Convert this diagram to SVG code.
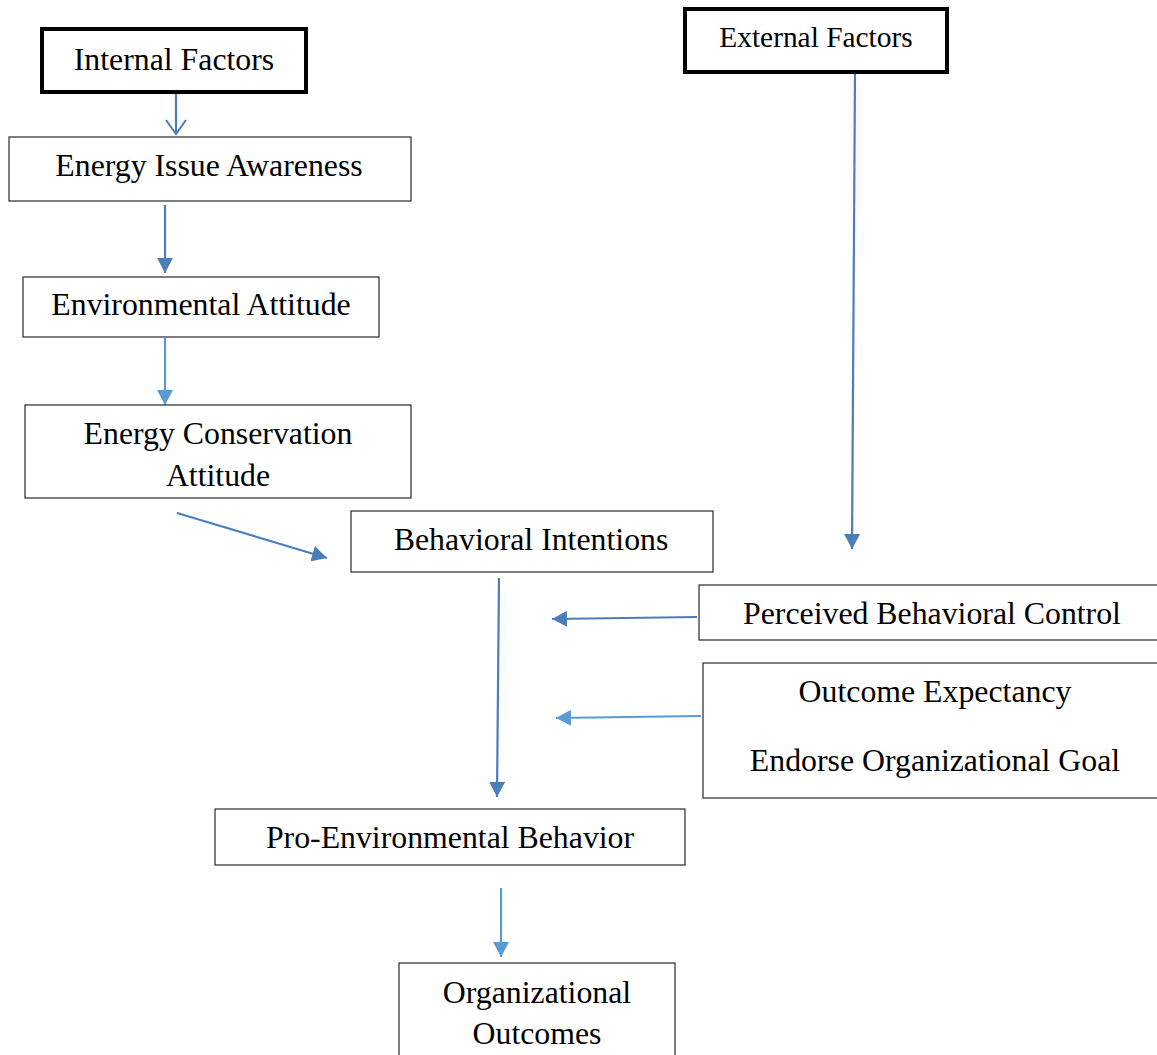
<svg xmlns="http://www.w3.org/2000/svg" width="1157" height="1055" viewBox="0 0 1157 1055">
<style>
.box{fill:#fff;stroke:#3a3a3a;stroke-width:1.3}
.thick{fill:#fff;stroke:#000;stroke-width:4}
text{font-family:"Liberation Serif","Times New Roman",serif;font-size:31.8px;fill:#000;text-anchor:middle}
.c1{stroke:#4a7ebb;stroke-width:2.2;fill:none}
.c2{stroke:#5b9bd5;stroke-width:2.2;fill:none}
</style>
<defs>
<marker id="ah1" markerUnits="userSpaceOnUse" markerWidth="16" markerHeight="16" refX="15" refY="8" orient="auto"><path d="M0,0 L15,8 L0,16 z" fill="#4a7ebb"/></marker>
<marker id="ah2" markerUnits="userSpaceOnUse" markerWidth="16" markerHeight="16" refX="15" refY="8" orient="auto"><path d="M0,0 L15,8 L0,16 z" fill="#5b9bd5"/></marker>
<marker id="open" markerUnits="userSpaceOnUse" markerWidth="20" markerHeight="24" refX="16" refY="12" orient="auto"><path d="M2,2 L16,12 L2,22" fill="none" stroke="#4a7ebb" stroke-width="2"/></marker>
</defs>
<g id="connectors">
<line class="c1" x1="176" y1="92" x2="176" y2="134" marker-end="url(#open)"/>
<line class="c1" x1="165" y1="205" x2="165" y2="273" marker-end="url(#ah1)"/>
<line class="c2" x1="165" y1="338" x2="165" y2="405" marker-end="url(#ah2)"/>
<line class="c1" x1="177" y1="513" x2="327" y2="558" marker-end="url(#ah1)"/>
<line class="c1" x1="855" y1="72" x2="852" y2="549" marker-end="url(#ah1)"/>
<line class="c1" x1="697" y1="617" x2="552" y2="619" marker-end="url(#ah1)"/>
<line class="c2" x1="701" y1="716" x2="556" y2="718" marker-end="url(#ah2)"/>
<line class="c1" x1="499" y1="578" x2="497" y2="797" marker-end="url(#ah1)"/>
<line class="c2" x1="501" y1="888" x2="501" y2="957" marker-end="url(#ah2)"/>
</g>
<g id="internal"><rect class="thick" x="42" y="29" width="264" height="63"/><text x="174" y="70">Internal Factors</text></g>
<g id="external"><rect class="thick" x="685" y="9" width="262" height="63"/><text x="816" y="47" style="font-size:29.4px">External Factors</text></g>
<g id="awareness"><rect class="box" x="9" y="137" width="402" height="64"/><text x="209" y="176">Energy Issue Awareness</text></g>
<g id="envattitude"><rect class="box" x="23" y="277" width="356" height="60"/><text x="201" y="315">Environmental Attitude</text></g>
<g id="conservation"><rect class="box" x="25" y="405" width="386" height="93"/><text x="218" y="444">Energy Conservation</text><text x="218" y="486">Attitude</text></g>
<g id="intentions"><rect class="box" x="351" y="511" width="362" height="61"/><text x="531" y="550">Behavioral Intentions</text></g>
<g id="pbc"><rect class="box" x="699" y="585" width="460" height="55"/><text x="932" y="624">Perceived Behavioral Control</text></g>
<g id="outcome"><rect class="box" x="703" y="663" width="456" height="135"/><text x="935" y="702">Outcome Expectancy</text><text x="935" y="771">Endorse Organizational Goal</text></g>
<g id="peb"><rect class="box" x="215" y="809" width="470" height="56"/><text x="450" y="848">Pro-Environmental Behavior</text></g>
<g id="orgout"><rect class="box" x="399" y="963" width="276" height="95"/><text x="537" y="1003">Organizational</text><text x="537" y="1044">Outcomes</text></g>
</svg>
